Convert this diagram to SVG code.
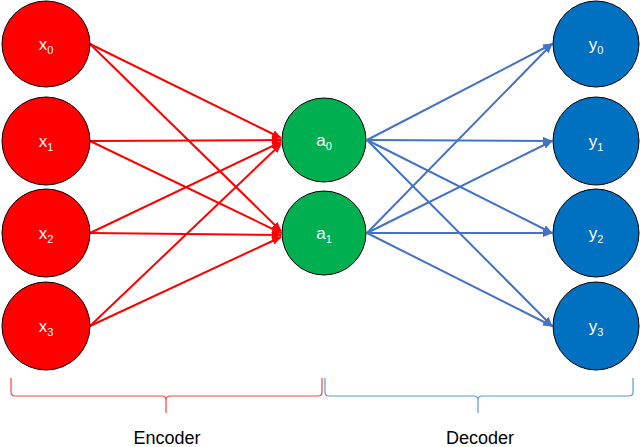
<svg xmlns="http://www.w3.org/2000/svg" width="640" height="447" viewBox="0 0 640 447">
<style>
.n{stroke:#000;stroke-width:1}
.x{fill:#ff0000}.a{fill:#00b050}.y{fill:#0070c0}
text{font-family:"Liberation Sans",Arial,sans-serif;font-size:17px;fill:#fff;text-anchor:middle}
.s{font-size:11px}
.r{stroke:#ff0000;stroke-width:2;fill:none}
.b{stroke:#4472c4;stroke-width:2;fill:none}
.lab{fill:#000;font-size:18px}
</style>
<defs>
<marker id="mr" markerWidth="10" markerHeight="8" refX="9" refY="4" orient="auto" markerUnits="userSpaceOnUse"><path d="M0,0L10,4L0,8z" fill="#ff0000"/></marker>
<marker id="mb" markerWidth="10" markerHeight="8" refX="9" refY="4" orient="auto" markerUnits="userSpaceOnUse"><path d="M0,0L10,4L0,8z" fill="#4472c4"/></marker>
</defs>
<g id="connectors">
<g class="r" marker-end="url(#mr)">
<line x1="90" y1="44" x2="281" y2="138"/><line x1="90" y1="44" x2="281" y2="231"/>
<line x1="90" y1="141" x2="281" y2="140"/><line x1="90" y1="141" x2="281" y2="233"/>
<line x1="90" y1="233" x2="281" y2="142"/><line x1="90" y1="233" x2="281" y2="235"/>
<line x1="90" y1="326" x2="281" y2="144"/><line x1="90" y1="326" x2="281" y2="237"/>
</g>
<g class="b" marker-end="url(#mb)">
<line x1="367" y1="140" x2="552" y2="44"/><line x1="367" y1="140" x2="552" y2="141"/>
<line x1="367" y1="140" x2="552" y2="233"/><line x1="367" y1="140" x2="552" y2="326"/>
<line x1="367" y1="233" x2="552" y2="44"/><line x1="367" y1="233" x2="552" y2="141"/>
<line x1="367" y1="233" x2="552" y2="233"/><line x1="367" y1="233" x2="552" y2="326"/>
</g>
</g>
<g id="x0"><ellipse class="n x" cx="46" cy="44" rx="44" ry="43"/><text x="46" y="50">x<tspan class="s" dy="4">0</tspan></text></g>
<g id="x1"><ellipse class="n x" cx="46" cy="141" rx="44" ry="44"/><text x="46" y="147">x<tspan class="s" dy="4">1</tspan></text></g>
<g id="x2"><ellipse class="n x" cx="46" cy="233" rx="44" ry="44"/><text x="46" y="239">x<tspan class="s" dy="4">2</tspan></text></g>
<g id="x3"><ellipse class="n x" cx="46" cy="326" rx="44" ry="44"/><text x="46" y="332">x<tspan class="s" dy="4">3</tspan></text></g>
<g id="a0"><ellipse class="n a" cx="324" cy="140" rx="42" ry="42"/><text x="324" y="146">a<tspan class="s" dy="4">0</tspan></text></g>
<g id="a1"><ellipse class="n a" cx="324" cy="233" rx="42" ry="42"/><text x="324" y="239">a<tspan class="s" dy="4">1</tspan></text></g>
<g id="y0"><ellipse class="n y" cx="596" cy="44" rx="43" ry="43"/><text x="596" y="50">y<tspan class="s" dy="4">0</tspan></text></g>
<g id="y1"><ellipse class="n y" cx="596" cy="141" rx="43" ry="44"/><text x="596" y="147">y<tspan class="s" dy="4">1</tspan></text></g>
<g id="y2"><ellipse class="n y" cx="596" cy="233" rx="43" ry="44"/><text x="596" y="239">y<tspan class="s" dy="4">2</tspan></text></g>
<g id="y3"><ellipse class="n y" cx="596" cy="326" rx="43" ry="44"/><text x="596" y="332">y<tspan class="s" dy="4">3</tspan></text></g>
<g id="encoder">
<path d="M11,378 V392 Q11,396 15,396 H162 Q166,396 166,400 V413 M166,400 Q166,396 170,396 H318 Q322,396 322,392 V378" fill="none" stroke="#ff4040" stroke-width="1.2"/>
<text class="lab" x="167" y="444">Encoder</text>
</g>
<g id="decoder">
<path d="M325,378 V392 Q325,396 329,396 H474 Q478,396 478,400 V413 M478,400 Q478,396 482,396 H629 Q633,396 633,392 V378" fill="none" stroke="#5b9bd5" stroke-width="1.2"/>
<text class="lab" x="480" y="444">Decoder</text>
</g>
</svg>
